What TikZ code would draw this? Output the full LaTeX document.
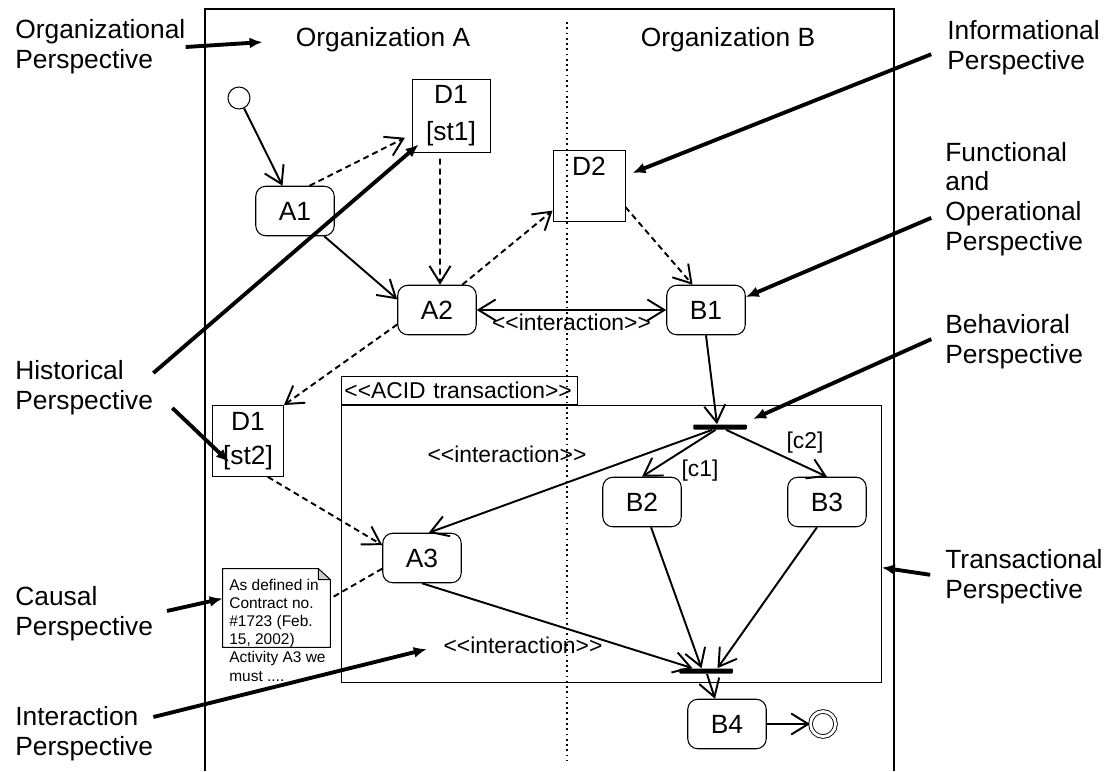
\documentclass[tikz,border=0pt]{standalone}
\usepackage{fontspec}
\setmainfont{Liberation Sans}[Ligatures=TeXOff]
\usetikzlibrary{positioning, arrows.meta}
\tikzset{
	activity/.style= {
		rectangle, rounded corners=2mm,
		draw, line width=0.6pt,
		minimum width=1.57cm, minimum height=0.99cm,
		font=\fontsize{15}{18}\selectfont
	},
	docbox/.style= {
		rectangle, draw, line width=0.5pt,
		minimum width=1.42cm, minimum height=1.42cm,
		align=center, font=\fontsize{15}{17}\selectfont
	},
	persp/.style= {
		anchor=west, inner sep=0, align=left,
		font=\fontsize{15}{17}\selectfont
	},
	lanehead/.style= {inner sep=0, font=\fontsize{15}{18}\selectfont},
	stereo/.style= {inner sep=0, font=\fontsize{13}{16}\selectfont},
	bar/.style= {
		rectangle, fill=black, inner sep=0,
		minimum width=1.07cm, minimum height=0.1cm, rounded corners=0.5pt
	},
	flow/.style= {->, line width=1.1pt},
	dataflow/.style= {flow, dash pattern=on 3.4pt off 2.3pt},
	notelink/.style= {line width=1.1pt, dash pattern=on 3.4pt off 2.3pt},
	pointer/.style= {-{Latex[length=2.6mm, width=2.2mm]}, line width=2.2pt},
}

\begin{document}
\begin{tikzpicture}[x=0.02cm, y=-0.02cm, >={Straight Barb[length=3.4mm, width=4.2mm]}]
		\useasboundingbox (0,0) rectangle (1109,771);
		
		% swimlanes
		\draw[line width=1.1pt] (205,771) -- (205,9) -- (894,9) -- (894,771);
		\draw[dotted, line width=1pt] (567,22) -- (567,760);
		\node (orgA) [lanehead] at (383,40) {Organization A};
		\node (orgB) [lanehead] at (728,40) {Organization B};
		
		% activities and documents
		\node (init) [circle, draw, line width=0.6pt, minimum size=0.44cm, inner sep=0] at (239,98) {};
		\node (A1) [activity] at (295,211) {A1};
		\node (D1a) [docbox, minimum width=1.56cm] at (451,116) {D1\\[4pt]{[st1]}};
		\node (D2) [docbox, minimum width=1.44cm] at (589,186) {D2\\[6pt]~};
		\node (A2) [activity] at (437,310) {A2};
		\node (B1) [activity] at (706,310) {B1};
		\node (D1b) [docbox] at (248,441) {D1\\[2pt]{[st2]}};
		
		% transaction
		\node (acidhead) [draw, line width=0.5pt, anchor=south west, minimum width=4.72cm, minimum height=0.56cm,
			inner xsep=1pt, text width=4.6cm, align=left, font=\fontsize{13}{16}\selectfont] at (341,405) {<<ACID transaction>>};
		\node (acid) [draw, line width=0.5pt, anchor=north west, minimum width=10.8cm, minimum height=5.54cm] at (341,405) {};
		\node (forkbar) [bar] at (720,427) {};
		\node (B2) [activity] at (642,502) {B2};
		\node (B3) [activity] at (827,502) {B3};
		\node (A3) [activity] at (422,558) {A3};
		\node (joinbar) [bar] at (706,671) {};
		\node (B4) [activity] at (727,724) {B4};
		\node (final) [circle, draw, double, double distance=1.6pt, line width=0.5pt, minimum size=0.5cm, inner sep=0] at (823,724) {};
		
		\node (intup) [stereo] at (507,454) {<<interaction>>};
		\node (intlow) [stereo] at (523,645) {<<interaction>>};
		\node (c1) [stereo] at (700,471) {[c1]};
		\node (c2) [stereo] at (805,443) {[c2]};
		
		% note
		\node (note) [minimum width=2.14cm, minimum height=1.56cm, inner sep=0] at (276.5,608) {};
		\draw[line width=0.5pt] (note.north west) -- ([xshift=-2.4mm]note.north east) -- ([yshift=-2.2mm]note.north east)
			-- (note.south east) -- (note.south west) -- cycle;
		\draw[line width=0.5pt, fill=gray!40] ([xshift=-2.4mm]note.north east) -- ([xshift=-2.4mm, yshift=-2.2mm]note.north east)
			-- ([yshift=-2.2mm]note.north east) -- cycle;
		\node (notetext) [anchor=north west, inner sep=0, align=left, font=\fontsize{8.8}{10.3}\selectfont] at (229,579)
			{As defined in\\Contract no.\\\#1723 (Feb.\\15, 2002)\\Activity A3 we\\must ....};
		
		% perspectives
		\node (orgp) [persp] at (15,47) {Organizational\\Perspective};
		\node (histp) [persp] at (15,388) {Historical\\Perspective};
		\node (causp) [persp] at (15,614) {Causal\\Perspective};
		\node (intp) [persp] at (15,734) {Interaction\\Perspective};
		\node (infp) [persp] at (947,48) {Informational\\Perspective};
		\node (funcp) [persp] at (945,199) {Functional\\and\\Operational\\Perspective};
		\node (behp) [persp] at (945,342) {Behavioral\\Perspective};
		\node (transp) [persp] at (945,577) {Transactional\\Perspective};
		
		% control flow
		\draw[flow] (init) -- (A1);
		\draw[flow] (A1) -- (A2.165);
		\draw[flow, <->] (A2) -- node (intmid) [stereo, midway, below=0.6mm] {<<interaction>>} (B1);
		\draw[flow] (B1.south) -- ([xshift=-0.6mm]forkbar.north);
		\draw[flow] (forkbar) -- (A3.75);
		\draw[flow] (forkbar) -- (B2.north);
		\draw[flow] (forkbar) -- (B3.north);
		\draw[flow] (B2) -- ([xshift=-0.9mm]joinbar.north);
		\draw[flow] ([xshift=-2mm]B3.south) -- ([xshift=2.3mm]joinbar.north);
		\draw[flow] (A3.south) -- ([xshift=-2.7mm]joinbar.north);
		\draw[flow] (joinbar) -- ([xshift=-2.4mm]B4.north);
		\draw[flow] (B4) -- (final);
		
		% object flow
		\draw[dataflow, shorten >=1.5mm] (A1.60) -- (D1a.205);
		\draw[dataflow] ([xshift=-2.2mm, yshift=-1.2mm]D1a.south) -- ([xshift=0.6mm]A2.north);
		\draw[dataflow] (A2.45) -- (D2.214);
		\draw[dataflow] (D2.-30) -- (B1.118);
		\draw[dataflow] (A2.200) -- (D1b.north east);
		\draw[dataflow] (D1b.-61) -- (A3.162);
		\draw[notelink] (A3.195) -- (note.10);
		
		% pointers
		\draw[pointer, shorten >=6.6mm] (orgp.east) -- (orgA.west);
		\draw[pointer, shorten <=3.4mm] (infp.west) -- ([xshift=1.4mm, yshift=2.6mm]D2.east);
		\draw[pointer, shorten <=3mm] ([yshift=-2.6mm]funcp.west) -- (B1.18);
		\draw[pointer, shorten <=3mm] ([yshift=1.8mm]behp.west) -- ([xshift=1.2mm, yshift=1.6mm]forkbar.east);
		\draw[pointer, shorten <=3mm] (transp.west) -- (acid.-5);
		\draw[pointer] ([yshift=3mm]histp.east) -- ([xshift=1.4mm, yshift=1.6mm]D1a.south west);
		\draw[pointer] ([xshift=3.8mm, yshift=-4mm]histp.east) -- ([xshift=3.4mm, yshift=-4.2mm]D1b.west);
		\draw[pointer, shorten <=2.8mm] (causp.east) -- (note.170);
		\draw[pointer, shorten >=3.4mm] ([yshift=3.4mm]intp.east) -- (intlow.west);
\end{tikzpicture}
\end{document}
